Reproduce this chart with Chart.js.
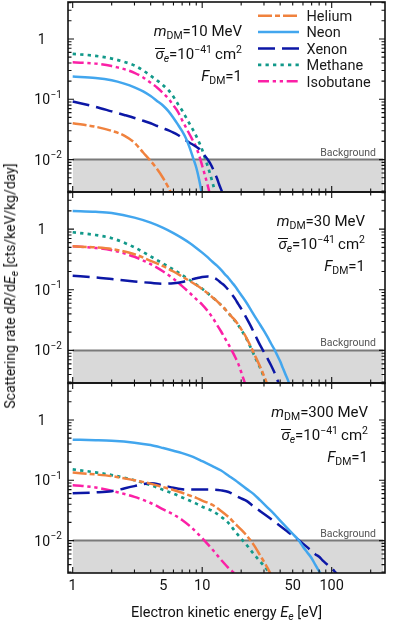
<!DOCTYPE html>
<html>
<head>
<meta charset="utf-8">
<script src="https://cdn.jsdelivr.net/npm/chart.js@4.4.0/dist/chart.umd.min.js"></script>
<style>
  html, body { margin: 0; padding: 0; background: #fff; }
  body { width: 395px; height: 622px; position: relative; overflow: hidden; font-family: Roboto, sans-serif; color: #111; }
  canvas { position: absolute; left: 0; }
  .note { position: absolute; font-size: 15px; line-height: 18px; white-space: nowrap; }
  .sb { font-size: 10.5px; position: relative; top: 3px; }
  .sp { font-size: 10.5px; position: relative; top: -6px; }
  .ov { position: relative; }
  .ov::before { content: ''; position: absolute; left: 0; right: -1px; top: 3px; border-top: 1.3px solid #111; }
  #ytitle, #xtitle { position: absolute; white-space: nowrap; transform-origin: center; }
  #ytitle { left: 10px; top: 286px; font-size: 14px; transform: translate(-50%, -50%) rotate(-90deg); }
  #xtitle { left: 226.5px; top: 611.5px; font-size: 14.5px; transform: translate(-50%, -50%); }
</style>
</head>
<body>
<canvas id="p1" width="395" height="194" style="top:0"></canvas>
<canvas id="p2" width="395" height="195" style="top:190px"></canvas>
<canvas id="p3" width="395" height="241" style="top:381px"></canvas>
<div id="ytitle">Scattering rate d<i>R</i>/d<i>E</i><span class="sb"><i>e</i></span> [cts/keV/kg/day]</div>
<div id="xtitle">Electron kinetic energy <i>E</i><span class="sb"><i>e</i></span> [eV]</div>
<script>
// ---- data ----
const gasNames = ['Helium', 'Neon', 'Xenon', 'Methane', 'Isobutane']
const massesMeV = [10, 30, 300]
const sigmaExp = '−41'
const backgroundLevel = 0.01
const backgroundRange = [1, 250]

const xTickValues = [1, 5, 10, 50, 100]
const xTickLabels = ['1', '5', '10', '50', '100']
const yTickValues = [1, 0.1, 0.01]
const yTickLabels = [['1', ''], ['10', '−1'], ['10', '−2']]

// m_DM = 10 MeV
const energy10 = [1, 1.5, 2, 2.5, 3, 3.5, 4, 4.5, 5, 5.5, 6, 6.5, 7, 7.5, 8, 8.5, 9, 9.5, 10, 10.5, 11, 11.5, 12, 12.5, 13, 13.5, 14, 14.5]
const helium10 = [0.040, 0.035, 0.030, 0.025, 0.019, 0.0131, 0.0095, 0.0069, 0.0049, 0.0034, 0.0023]
const neon10 = [0.238, 0.226, 0.207, 0.182, 0.158, 0.135, 0.113, 0.093, 0.078, 0.063, 0.049, 0.038, 0.0295, 0.0224, 0.0158, 0.0107, 0.0074, 0.0045, 0.0025]
const xenon10 = [0.092, 0.075, 0.063, 0.055, 0.049, 0.044, 0.040, 0.036, 0.033, 0.0305, 0.028, 0.0255, 0.0228, 0.0207, 0.019, 0.0176, 0.0163, 0.015, 0.0133, 0.0115, 0.0101, 0.0087, 0.0073, 0.006, 0.0049, 0.0039, 0.0032, 0.0026]
const methane10 = [0.565, 0.525, 0.473, 0.417, 0.363, 0.30, 0.245, 0.204, 0.17, 0.141, 0.11, 0.083, 0.065, 0.05, 0.039, 0.031, 0.0245, 0.019, 0.0145, 0.0107, 0.0079, 0.0058, 0.0042, 0.003, 0.002]
const isobutane10 = [0.41, 0.39, 0.355, 0.316, 0.275, 0.23, 0.188, 0.155, 0.126, 0.102, 0.079, 0.062, 0.045, 0.034, 0.026, 0.0204, 0.0158, 0.0115, 0.0079, 0.0055, 0.0038, 0.0026]

// m_DM = 30 MeV
const energy30 = [1, 1.5, 2, 3, 4, 5, 6, 7, 8, 9, 10, 11, 12, 13, 14, 15, 16, 17, 18, 19, 20, 22, 24, 26, 28, 30, 32, 34, 36, 38, 40, 42, 44, 46, 48]
const helium30 = [0.52, 0.50, 0.47, 0.385, 0.30, 0.245, 0.2, 0.165, 0.14, 0.12, 0.103, 0.088, 0.075, 0.065, 0.056, 0.048, 0.041, 0.0355, 0.031, 0.0265, 0.0225, 0.016, 0.011, 0.0076, 0.0054, 0.0038, 0.0027]
const neon30 = [2.0, 1.93, 1.84, 1.55, 1.28, 1.05, 0.86, 0.71, 0.59, 0.49, 0.41, 0.345, 0.29, 0.25, 0.213, 0.18, 0.155, 0.132, 0.113, 0.096, 0.082, 0.061, 0.045, 0.034, 0.0265, 0.021, 0.0165, 0.013, 0.0105, 0.0083, 0.0066, 0.0051, 0.004, 0.0032, 0.0025]
const xenon30 = [0.17, 0.16, 0.15, 0.137, 0.13, 0.126, 0.128, 0.134, 0.145, 0.155, 0.163, 0.166, 0.16, 0.148, 0.13, 0.115, 0.098, 0.083, 0.07, 0.058, 0.049, 0.034, 0.024, 0.0168, 0.0122, 0.0094, 0.0073, 0.0057, 0.0044, 0.0033, 0.0024]
const methane30 = [0.89, 0.80, 0.71, 0.50, 0.355, 0.27, 0.215, 0.175, 0.145, 0.122, 0.104, 0.088, 0.075, 0.065, 0.056, 0.048, 0.041, 0.035, 0.0305, 0.026, 0.022, 0.0155, 0.0105, 0.0072, 0.0052, 0.0036, 0.0025]
const isobutane30 = [0.52, 0.49, 0.45, 0.35, 0.265, 0.20, 0.152, 0.115, 0.089, 0.070, 0.057, 0.045, 0.035, 0.0265, 0.0205, 0.0158, 0.0125, 0.0098, 0.0077, 0.006, 0.0044, 0.0024]

// m_DM = 300 MeV
const energy300 = [1, 1.5, 2, 3, 4, 5, 6, 7, 8, 9, 10, 12, 14, 16, 18, 20, 22, 25, 28, 32, 36, 40, 45, 50, 55, 60, 65, 70, 75, 80, 85, 90, 95, 100, 105, 110]
const helium300 = [0.134, 0.125, 0.117, 0.1, 0.088, 0.077, 0.069, 0.062, 0.056, 0.051, 0.046, 0.039, 0.031, 0.0245, 0.019, 0.0152, 0.0122, 0.0085, 0.0057, 0.0035, 0.0021]
const neon300 = [0.47, 0.462, 0.452, 0.42, 0.383, 0.342, 0.309, 0.282, 0.256, 0.231, 0.207, 0.172, 0.145, 0.119, 0.1, 0.084, 0.072, 0.059, 0.0467, 0.0353, 0.0275, 0.0215, 0.0164, 0.0129, 0.0104, 0.0079, 0.0063, 0.0051, 0.0039, 0.0031, 0.0025]
const xenon300 = [0.061, 0.063, 0.066, 0.08, 0.089, 0.082, 0.075, 0.071, 0.07, 0.07, 0.07, 0.07, 0.068, 0.064, 0.056, 0.05, 0.0455, 0.0367, 0.0308, 0.025, 0.0207, 0.0174, 0.0144, 0.0121, 0.0104, 0.0089, 0.0077, 0.0067, 0.0059, 0.0054, 0.0047, 0.0042, 0.0038, 0.0035, 0.0031, 0.0028]
const methane300 = [0.152, 0.135, 0.122, 0.1, 0.083, 0.069, 0.06, 0.052, 0.046, 0.041, 0.0365, 0.031, 0.0248, 0.0195, 0.0141, 0.0108, 0.0085, 0.006, 0.0045, 0.0032, 0.002]
const isobutane300 = [0.083, 0.076, 0.067, 0.053, 0.042, 0.033, 0.027, 0.022, 0.0175, 0.0138, 0.011, 0.0071, 0.0048, 0.0035, 0.0028, 0.0022]

// ---- styles ----
const gasColors = ['#f0823e', '#42a6ee', '#0c17a6', '#12998a', '#fb20a6']
const gasDashes = [[14, 3, 5, 3], [], [17, 7], [3.3, 4.2], [11, 3.7, 3.3, 3.7, 3.3, 3.7]]
const gasWidths = [2.5, 2.5, 2.5, 2.7, 2.5]

const panels = [
  { id: 'p1', energy: energy10, series: [helium10, neon10, xenon10, methane10, isobutane10], bottom: 2, legend: true, xLabels: false, noteRight: 242 },
  { id: 'p2', energy: energy30, series: [helium30, neon30, xenon30, methane30, isobutane30], bottom: 2, legend: false, xLabels: false, noteRight: 365 },
  { id: 'p3', energy: energy300, series: [helium300, neon300, xenon300, methane300, isobutane300], bottom: 49, legend: false, xLabels: true, noteRight: 368 }
]
const panelTops = [2, 192, 383]
const noteOffsets = [29, 51.5, 73.5]

const axesBox = {
  id: 'axesBox',
  afterDatasetsDraw(chart, args, opts) {
    const { ctx, chartArea: a, scales: { x, y } } = chart
    ctx.save()

    // background label
    ctx.font = '10.5px Roboto'
    ctx.fillStyle = '#555'
    ctx.textAlign = 'right'
    ctx.textBaseline = 'alphabetic'
    ctx.fillText('Background', a.right - 9, y.getPixelForValue(backgroundLevel) - 4)

    // inward ticks on all four sides
    ctx.strokeStyle = '#111'
    ctx.lineWidth = 1.1
    ctx.beginPath()
    for (const d of [1, 10, 100]) {
      for (let k = 1; k <= 9; k++) {
        const v = k * d
        if (v < x.min || v > x.max) continue
        const px = x.getPixelForValue(v)
        const len = k === 1 ? 6 : 3.5
        ctx.moveTo(px, a.bottom); ctx.lineTo(px, a.bottom - len)
        ctx.moveTo(px, a.top); ctx.lineTo(px, a.top + len)
      }
    }
    for (const d of [0.001, 0.01, 0.1, 1]) {
      for (let k = 1; k <= 9; k++) {
        const v = k * d
        if (v < y.min || v > y.max) continue
        const py = y.getPixelForValue(v)
        const len = k === 1 ? 6 : 3.5
        ctx.moveTo(a.left, py); ctx.lineTo(a.left + len, py)
        ctx.moveTo(a.right, py); ctx.lineTo(a.right - len, py)
      }
    }
    ctx.stroke()
    ctx.lineWidth = 1.6
    ctx.strokeRect(a.left, a.top, a.right - a.left, a.bottom - a.top)

    // y tick labels
    ctx.fillStyle = '#111'
    yTickValues.forEach((v, i) => {
      const py = y.getPixelForValue(v)
      const [base, exp] = yTickLabels[i]
      ctx.font = '14px Roboto'
      ctx.textAlign = 'right'
      if (exp) {
        ctx.fillText(base, a.left - 18, py + 5)
        ctx.font = '10px Roboto'
        ctx.textAlign = 'left'
        ctx.fillText(exp, a.left - 17.5, py - 1.5)
      } else {
        ctx.fillText(base, a.left - 22.5, py + 5)
      }
    })

    // x tick labels
    if (opts.xLabels) {
      ctx.font = '14.5px Roboto'
      ctx.textAlign = 'center'
      xTickValues.forEach((v, i) => {
        ctx.fillText(xTickLabels[i], x.getPixelForValue(v), a.bottom + 17)
      })
    }

    // legend
    if (opts.legend) {
      chart.data.datasets.slice(0, gasNames.length).forEach((ds, i) => {
        const cy = a.top + 13.7 + i * 16.4
        const x0 = a.right - 127
        ctx.save()
        ctx.strokeStyle = ds.borderColor
        ctx.lineWidth = ds.borderWidth
        ctx.setLineDash(ds.borderDash)
        ctx.beginPath()
        ctx.moveTo(x0, cy); ctx.lineTo(x0 + 41, cy)
        ctx.stroke()
        ctx.restore()
        ctx.font = '14.5px Roboto'
        ctx.textAlign = 'left'
        ctx.fillStyle = '#1a1a1a'
        ctx.fillText(ds.label, x0 + 48.5, cy + 5.2)
      })
    }
    ctx.restore()
  }
}

function buildDatasets(energy, series) {
  const sets = series.map((vals, i) => ({
    label: gasNames[i],
    data: vals.map((v, j) => ({ x: energy[j], y: v })),
    borderColor: gasColors[i],
    borderDash: gasDashes[i],
    borderWidth: gasWidths[i],
    pointRadius: 0,
    cubicInterpolationMode: 'monotone',
    fill: false,
    clip: 0
  }))
  sets.push({
    label: 'Background',
    data: backgroundRange.map(e => ({ x: e, y: backgroundLevel })),
    borderColor: '#7a7a7a',
    borderWidth: 2,
    backgroundColor: '#d9d9d9',
    fill: 'start',
    pointRadius: 0,
    clip: 0
  })
  return sets
}

function renderPanel(p, i) {
  const canvas = document.getElementById(p.id)
  new Chart(canvas.getContext('2d'), {
    type: 'line',
    data: { datasets: buildDatasets(p.energy, p.series) },
    options: {
      responsive: false,
      animation: false,
      events: [],
      layout: { padding: { left: 68, right: 10, top: 2, bottom: p.bottom } },
      scales: {
        x: { type: 'logarithmic', min: 0.92, max: 258, display: false },
        y: { type: 'logarithmic', min: 0.0029, max: 4.1, display: false }
      },
      plugins: {
        legend: { display: false },
        tooltip: { enabled: false },
        axesBox: { legend: p.legend, xLabels: p.xLabels }
      }
    },
    plugins: [axesBox]
  })

  // parameter annotation
  const lines = [
    `<i>m</i><span class="sb">DM</span>=${massesMeV[i]} MeV`,
    `<span class="ov"><i>σ</i></span><span class="sb"><i>e</i></span>=10<span class="sp">${sigmaExp}</span>&thinsp;cm<span class="sp">2</span>`,
    `<i>F</i><span class="sb">DM</span>=1`
  ]
  lines.forEach((html, k) => {
    const div = document.createElement('div')
    div.className = 'note'
    div.innerHTML = html
    div.style.right = (395 - p.noteRight) + 'px'
    div.style.top = (panelTops[i] + noteOffsets[k] - 9) + 'px'
    document.body.appendChild(div)
  })
}

Promise.all([
  document.fonts.load('14px Roboto'),
  document.fonts.load('italic 14px Roboto')
]).catch(() => {}).then(() => panels.forEach(renderPanel))
</script>
</body>
</html>
